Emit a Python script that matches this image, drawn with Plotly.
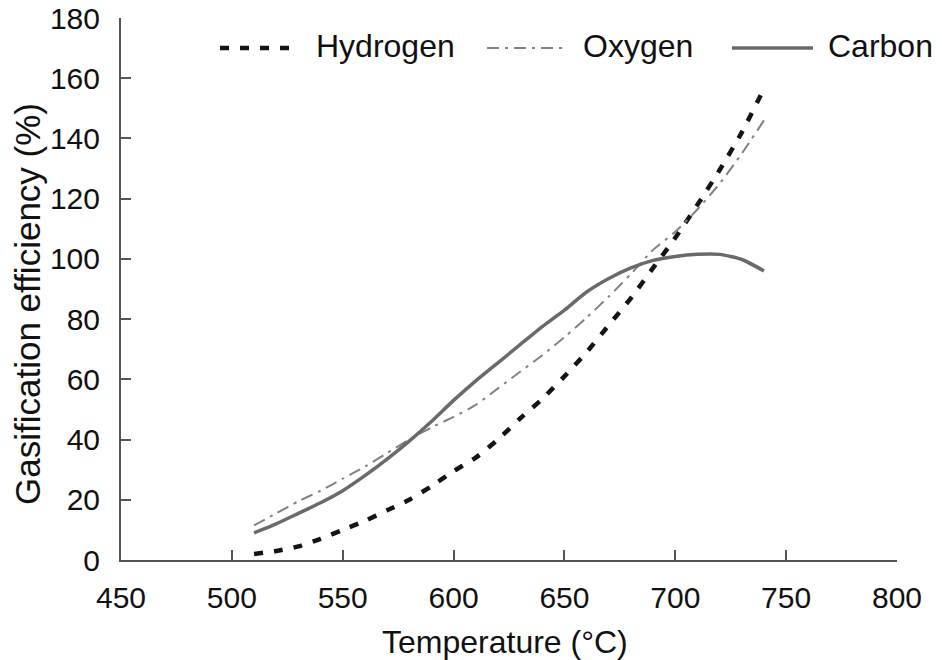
import plotly.graph_objects as go

temperature = [510, 520, 530, 540, 550, 560, 570, 580, 590, 600, 610, 620,
               630, 640, 650, 660, 670, 680, 690, 700, 710, 720, 730, 740]
hydrogen = [2, 3, 4.5, 7, 10, 13, 16.5, 20, 24.5, 29.5, 34, 40,
            47, 53.5, 61, 69, 78, 87, 97, 107, 118, 129.5, 142, 156.5]
oxygen = [11.5, 15.5, 19.5, 23, 27, 31, 35.5, 40, 44, 47.5, 51.5, 57,
          62.5, 68, 74, 80.5, 87.5, 95, 103, 109, 116.5, 125, 135, 146]
carbon = [9, 12, 15.5, 19, 23, 28, 33.5, 39.5, 46, 53, 59.5, 65.5,
          71.5, 77.5, 83, 89, 93.5, 97, 99.5, 100.8, 101.5, 101.5, 99.8, 96]

series_names = ["Hydrogen", "Oxygen", "Carbon"]
x_ticks = [450, 500, 550, 600, 650, 700, 750, 800]
y_ticks = [0, 20, 40, 60, 80, 100, 120, 140, 160, 180]
x_title = "Temperature (°C)"
y_title = "Gasification efficiency (%)"

FONT = "Liberation Sans, Arial, Helvetica, sans-serif"
styles = {
    "Hydrogen": dict(color="#141414", width=4.5, dash="9px,11px"),
    "Oxygen": dict(color="#828282", width=2, dash="12px,6px,3px,6px"),
    "Carbon": dict(color="#6a6a6a", width=3.5, dash="solid"),
}

fig = go.Figure()
for name, vals in zip(series_names, [hydrogen, oxygen, carbon]):
    fig.add_trace(go.Scatter(
        x=temperature, y=vals, mode="lines", name=name,
        line=dict(shape="spline", smoothing=0.6, **styles[name]),
        showlegend=False,
    ))

L, R, T, B = 121, 45, 18, 100
W, H = 942, 660
pw, ph = W - L - R, H - T - B

def px(x):
    return (x - L) / pw

def py(y):
    return (H - B - y) / ph

# custom legend (longer sample lines like the original)
legend_items = [("Hydrogen", 220, 298, 314), ("Oxygen", 487, 567, 581), ("Carbon", 732, 813, 826)]
shapes = []
annotations = []
for name, x0, x1, tx in legend_items:
    st = styles[name]
    shapes.append(dict(type="line", xref="paper", yref="paper",
                       x0=px(x0), x1=px(x1), y0=py(48), y1=py(48),
                       line=dict(color=st["color"], width=st["width"], dash=st["dash"])))
    annotations.append(dict(text=name, xref="paper", yref="paper", x=px(tx), y=py(46),
                            xanchor="left", yanchor="middle", showarrow=False,
                            font=dict(family=FONT, size=32, color="#111111")))

annotations.append(dict(text=x_title, xref="paper", yref="paper", x=px(505), y=py(642),
                        xanchor="center", yanchor="middle", showarrow=False,
                        font=dict(family=FONT, size=32, color="#111111")))
annotations.append(dict(text=y_title, xref="paper", yref="paper", x=px(27), y=py(304),
                        xanchor="center", yanchor="middle", showarrow=False, textangle=-90,
                        font=dict(family=FONT, size=35, color="#111111")))

fig.update_layout(
    width=W, height=H,
    margin=dict(l=L, r=R, t=T, b=B, autoexpand=False),
    paper_bgcolor="white", plot_bgcolor="white",
    font=dict(family=FONT, size=30, color="#111111"),
    shapes=shapes, annotations=annotations,
    showlegend=False,
)
fig.update_xaxes(
    range=[450, 800], tickvals=x_ticks, ticktext=[str(v) for v in x_ticks],
    showgrid=False, zeroline=False, showline=True, linecolor="#555555", linewidth=2,
    ticks="inside", ticklen=10, tickwidth=1.5, tickcolor="#555555",
    tickfont=dict(size=30), ticklabelstandoff=10, automargin=False,
)
fig.update_yaxes(
    range=[0, 180], tickvals=y_ticks, ticktext=[str(v) for v in y_ticks],
    showgrid=False, zeroline=False, showline=True, linecolor="#555555", linewidth=2,
    ticks="inside", ticklen=10, tickwidth=1.5, tickcolor="#555555",
    tickfont=dict(size=30), ticklabelstandoff=13, automargin=False,
)

fig.write_html("out.html")
